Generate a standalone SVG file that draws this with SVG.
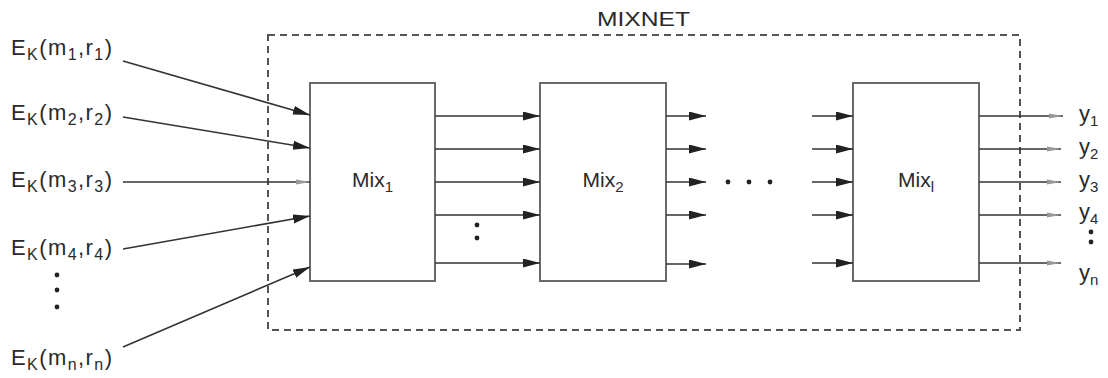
<svg xmlns="http://www.w3.org/2000/svg" width="1108" height="378" viewBox="0 0 1108 378">
<style>
  text { font-family: "Liberation Sans", Arial, sans-serif; fill: #2a2a2a; }
  .lbl { font-size: 21px; }
  .in { font-size: 22px; }
  .sub { font-size: 15px; }
  .isub { font-size: 16px; }
  .box { fill: #fff; stroke: #6a6a6a; stroke-width: 2; }
  .dash { fill: none; stroke: #555; stroke-width: 2; stroke-dasharray: 7 5; }
  .ln { fill: none; stroke: #333; stroke-width: 1.6; }
  .dot { fill: #222; }
</style>
<defs>
  <marker id="arr" markerUnits="userSpaceOnUse" markerWidth="18" markerHeight="10" refX="17" refY="4.5" orient="auto">
    <path d="M0,0 L17,4.5 L0,9 Z" fill="#222"/>
  </marker>
  <marker id="arrf" markerUnits="userSpaceOnUse" markerWidth="18" markerHeight="10" refX="17" refY="4.5" orient="auto">
    <path d="M3,2 L17,4.5 L3,7 Z" fill="#999"/>
  </marker>
</defs>
<rect width="1108" height="378" fill="#fff"/>

<g id="mixnet">
  <rect class="dash" x="268" y="35" width="752" height="295"/>
  <text class="lbl" x="597" y="26" textLength="93" lengthAdjust="spacingAndGlyphs">MIXNET</text>
</g>

<g id="mix1">
  <rect class="box" x="310" y="83" width="125" height="198"/>
  <text class="lbl" x="372.5" y="187" text-anchor="middle">Mix<tspan class="sub" dy="5">1</tspan></text>
</g>
<g id="mix2">
  <rect class="box" x="540" y="83" width="126" height="198"/>
  <text class="lbl" x="603" y="187" text-anchor="middle">Mix<tspan class="sub" dy="5">2</tspan></text>
</g>
<g id="mixl">
  <rect class="box" x="853" y="83" width="126" height="198"/>
  <text class="lbl" x="916" y="187" text-anchor="middle">Mix<tspan class="sub" dy="5">l</tspan></text>
</g>

<g id="inputs">
  <text class="in" x="11" y="55" textLength="101" lengthAdjust="spacing">E<tspan class="isub" dy="5">K</tspan><tspan dy="-5">(m</tspan><tspan class="isub" dy="5">1</tspan><tspan dy="-5">,r</tspan><tspan class="isub" dy="5">1</tspan><tspan dy="-5">)</tspan></text>
  <text class="in" x="11" y="120" textLength="101" lengthAdjust="spacing">E<tspan class="isub" dy="5">K</tspan><tspan dy="-5">(m</tspan><tspan class="isub" dy="5">2</tspan><tspan dy="-5">,r</tspan><tspan class="isub" dy="5">2</tspan><tspan dy="-5">)</tspan></text>
  <text class="in" x="11" y="187" textLength="101" lengthAdjust="spacing">E<tspan class="isub" dy="5">K</tspan><tspan dy="-5">(m</tspan><tspan class="isub" dy="5">3</tspan><tspan dy="-5">,r</tspan><tspan class="isub" dy="5">3</tspan><tspan dy="-5">)</tspan></text>
  <text class="in" x="11" y="255" textLength="101" lengthAdjust="spacing">E<tspan class="isub" dy="5">K</tspan><tspan dy="-5">(m</tspan><tspan class="isub" dy="5">4</tspan><tspan dy="-5">,r</tspan><tspan class="isub" dy="5">4</tspan><tspan dy="-5">)</tspan></text>
  <text class="in" x="11" y="365" textLength="101" lengthAdjust="spacing">E<tspan class="isub" dy="5">K</tspan><tspan dy="-5">(m</tspan><tspan class="isub" dy="5">n</tspan><tspan dy="-5">,r</tspan><tspan class="isub" dy="5">n</tspan><tspan dy="-5">)</tspan></text>
</g>

<g id="outputs">
  <text class="in" x="1079" y="121">y<tspan class="sub" dy="5">1</tspan></text>
  <text class="in" x="1079" y="154">y<tspan class="sub" dy="5">2</tspan></text>
  <text class="in" x="1079" y="187">y<tspan class="sub" dy="5">3</tspan></text>
  <text class="in" x="1079" y="219">y<tspan class="sub" dy="5">4</tspan></text>
  <text class="in" x="1079" y="280">y<tspan class="sub" dy="5">n</tspan></text>
</g>

<g id="ellipses">
  <circle class="dot" cx="57" cy="275" r="2.4"/>
  <circle class="dot" cx="57" cy="290" r="2.4"/>
  <circle class="dot" cx="57" cy="307" r="2.4"/>
  <circle class="dot" cx="477" cy="225" r="2.4"/>
  <circle class="dot" cx="477" cy="238" r="2.4"/>
  <circle class="dot" cx="728" cy="182" r="2.4"/>
  <circle class="dot" cx="749" cy="182" r="2.4"/>
  <circle class="dot" cx="770" cy="182" r="2.4"/>
  <circle class="dot" cx="1091" cy="232" r="2.4"/>
  <circle class="dot" cx="1091" cy="242" r="2.4"/>
</g>

<g id="connectors">
  <line class="ln" x1="123" y1="61" x2="310" y2="115" marker-end="url(#arr)"/>
  <line class="ln" x1="123" y1="117" x2="310" y2="148" marker-end="url(#arr)"/>
  <line class="ln" x1="123" y1="182" x2="310" y2="182" marker-end="url(#arrf)"/>
  <line class="ln" x1="123" y1="249" x2="310" y2="216" marker-end="url(#arr)"/>
  <line class="ln" x1="123" y1="347" x2="310" y2="267" marker-end="url(#arr)"/>

  <line class="ln" x1="435" y1="116" x2="540" y2="116" marker-end="url(#arr)"/>
  <line class="ln" x1="435" y1="149" x2="540" y2="149" marker-end="url(#arr)"/>
  <line class="ln" x1="435" y1="182" x2="540" y2="182" marker-end="url(#arr)"/>
  <line class="ln" x1="435" y1="215" x2="540" y2="215" marker-end="url(#arr)"/>
  <line class="ln" x1="435" y1="263" x2="540" y2="263" marker-end="url(#arr)"/>

  <line class="ln" x1="666" y1="116" x2="706" y2="116" marker-end="url(#arr)"/>
  <line class="ln" x1="666" y1="149" x2="706" y2="149" marker-end="url(#arr)"/>
  <line class="ln" x1="666" y1="182" x2="706" y2="182" marker-end="url(#arr)"/>
  <line class="ln" x1="666" y1="215" x2="706" y2="215" marker-end="url(#arr)"/>
  <line class="ln" x1="666" y1="264" x2="706" y2="264" marker-end="url(#arr)"/>

  <line class="ln" x1="812" y1="116" x2="853" y2="116" marker-end="url(#arr)"/>
  <line class="ln" x1="812" y1="149" x2="853" y2="149" marker-end="url(#arr)"/>
  <line class="ln" x1="812" y1="182" x2="853" y2="182" marker-end="url(#arr)"/>
  <line class="ln" x1="812" y1="215" x2="853" y2="215" marker-end="url(#arr)"/>
  <line class="ln" x1="812" y1="263" x2="853" y2="263" marker-end="url(#arr)"/>

  <line class="ln" x1="979" y1="116" x2="1063" y2="116" marker-end="url(#arrf)"/>
  <line class="ln" x1="979" y1="149" x2="1061" y2="149" marker-end="url(#arrf)"/>
  <line class="ln" x1="979" y1="182" x2="1061" y2="182" marker-end="url(#arrf)"/>
  <line class="ln" x1="979" y1="215" x2="1061" y2="215" marker-end="url(#arrf)"/>
  <line class="ln" x1="979" y1="263" x2="1061" y2="263" marker-end="url(#arrf)"/>
</g>
</svg>
